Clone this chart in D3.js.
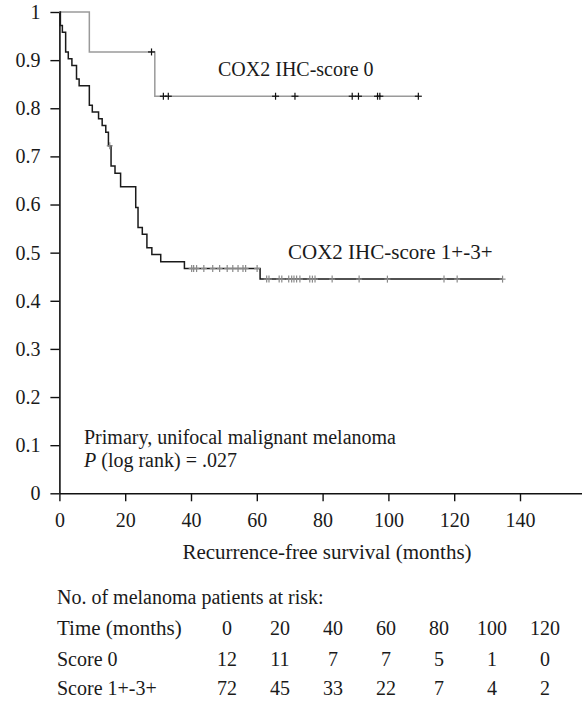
<!DOCTYPE html>
<html>
<head>
<meta charset="utf-8">
<script src="https://cdn.jsdelivr.net/npm/d3@7"></script>
<style>
  html, body { margin: 0; padding: 0; background: #fff; }
  svg { display: block; }
  text { font-family: "Liberation Serif", "DejaVu Serif", serif; fill: #1a1a1a; }
</style>
</head>
<body>
<script>
// ---------------- data ----------------
// COX2 IHC-score 0 : step times and survival after each step
const score0Times = [0, 9.1, 29.0];
const score0Surv  = [1, 0.917, 0.825];
const score0End   = 109.1;
const score0Censor = [28.0, 31.6, 33.1, 65.7, 71.6, 89.0, 90.9, 96.7, 97.4, 109.1];

// COX2 IHC-score 1+-3+
const score13Times = [0, 0.3, 0.9, 1.9, 2.7, 3.8, 5.2, 6.0, 9.1, 10.0, 11.9, 13.0, 14.1, 14.9,
                      15.7, 16.9, 18.6, 23.2, 23.9, 25.2, 26.6, 28.1, 30.8, 38.0, 61.0];
const score13Surv  = [1, 0.972, 0.958, 0.917, 0.903, 0.889, 0.861, 0.847, 0.806, 0.792, 0.778, 0.764, 0.750, 0.722,
                      0.680, 0.665, 0.637, 0.594, 0.552, 0.538, 0.510, 0.496, 0.481, 0.467, 0.445];
const score13End   = 134.7;
const score13Censor = [15.3, 40.2, 40.8, 41.7, 43.9, 46.6, 48.7, 51.0, 52.7, 54.3, 55.8, 56.6, 60.1,
                       63.0, 63.7, 66.8, 67.6, 69.7, 70.6, 71.3, 72.1, 73.1, 76.1, 76.9, 77.7,
                       82.9, 91.1, 99.7, 116.9, 120.9, 134.7];

const xTicks = [0, 20, 40, 60, 80, 100, 120, 140];
const yTicks = [0, 0.1, 0.2, 0.3, 0.4, 0.5, 0.6, 0.7, 0.8, 0.9, 1];

const riskTimes = [0, 20, 40, 60, 80, 100, 120];
const riskScore0 = [12, 11, 7, 7, 5, 1, 0];
const riskScore13 = [72, 45, 33, 22, 7, 4, 2];

// ---------------- layout ----------------
const W = 582, H = 712;
const FS = 20, TFS = 20;
const svg = d3.select("body").append("svg").attr("width", W).attr("height", H);

const x = d3.scaleLinear().domain([0, 160]).range([59.4, 585.8]);
const y = d3.scaleLinear().domain([0, 1]).range([493.3, 12]);

// axes
const yAxis = d3.axisLeft(y).tickValues(yTicks).tickSize(9).tickSizeOuter(0)
  .tickFormat(d => d === 0 ? "0" : d === 1 ? "1" : d3.format(".1f")(d));
const gy = svg.append("g").attr("transform", `translate(${x(0)},0)`).call(yAxis);
gy.select(".domain").attr("stroke", "#111").attr("stroke-width", 1.6);
gy.selectAll(".tick line").attr("stroke", "#111").attr("stroke-width", 1.4);
gy.selectAll(".tick text").attr("font-size", TFS).attr("x", -19).attr("fill", "#1a1a1a")
  .style("font-family", '"Liberation Serif", serif');

const xAxis = d3.axisBottom(x).tickValues(xTicks).tickSize(8).tickSizeOuter(0);
const gx = svg.append("g").attr("transform", `translate(0,${y(0)})`).call(xAxis);
gx.select(".domain").attr("stroke", "#111").attr("stroke-width", 1.6);
gx.selectAll(".tick line").attr("stroke", "#111").attr("stroke-width", 1.4);
gx.selectAll(".tick text").attr("font-size", TFS).attr("y", 20).attr("fill", "#1a1a1a")
  .style("font-family", '"Liberation Serif", serif');

svg.append("text").attr("x", 327).attr("y", 559).attr("text-anchor", "middle")
  .attr("font-size", 21).text("Recurrence-free survival (months)");

// step curves
function stepPoints(times, surv, end) {
  const pts = times.map((t, i) => [t, surv[i]]);
  pts.push([end, surv[surv.length - 1]]);
  return pts;
}
function survAt(times, surv, t) {
  let s = surv[0];
  for (let i = 0; i < times.length; i++) if (times[i] <= t) s = surv[i];
  return s;
}
const line = d3.line().x(d => x(d[0])).y(d => y(d[1])).curve(d3.curveStepAfter);

svg.append("path").datum(stepPoints(score0Times, score0Surv, score0End))
  .attr("d", line).attr("fill", "none").attr("stroke", "#9a9a9a").attr("stroke-width", 1.5);
svg.append("path").datum(stepPoints(score13Times, score13Surv, score13End))
  .attr("d", line).attr("fill", "none").attr("stroke", "#1a1a1a").attr("stroke-width", 1.5);

// censor marks
function censors(times, sTimes, sSurv, color, hw, hh) {
  const g = svg.append("g").attr("stroke", color).attr("stroke-width", 1.2);
  times.forEach(t => {
    const cx = x(t), cy = y(survAt(sTimes, sSurv, t));
    g.append("line").attr("x1", cx - hw).attr("x2", cx + hw).attr("y1", cy).attr("y2", cy);
    g.append("line").attr("x1", cx).attr("x2", cx).attr("y1", cy - hh).attr("y2", cy + hh);
  });
}
censors(score0Censor, score0Times, score0Surv, "#111", 3.5, 3.5);
censors(score13Censor, score13Times, score13Surv, "#8a8a8a", 3, 3.5);

// labels
svg.append("text").attr("x", 218).attr("y", 76).attr("font-size", FS).text("COX2 IHC-score 0");
svg.append("text").attr("x", 288).attr("y", 259).attr("font-size", 21).text("COX2 IHC-score 1+-3+");
svg.append("text").attr("x", 84).attr("y", 444).attr("font-size", FS).text("Primary, unifocal malignant melanoma");
const pt = svg.append("text").attr("x", 84).attr("y", 467).attr("font-size", FS);
pt.append("tspan").attr("font-style", "italic").text("P");
pt.append("tspan").text(" (log rank) = .027");

// risk table
const cx = d3.scalePoint().domain(riskTimes).range([227, 545]);
svg.append("text").attr("x", 57).attr("y", 604).attr("font-size", FS).text("No. of melanoma patients at risk:");
const rows = [
  { label: "Time (months)", vals: riskTimes, yy: 635 },
  { label: "Score 0", vals: riskScore0, yy: 666 },
  { label: "Score 1+-3+", vals: riskScore13, yy: 695 }
];
rows.forEach(r => {
  svg.append("text").attr("x", 57).attr("y", r.yy).attr("font-size", r.label === "Time (months)" ? 21 : FS).text(r.label);
  r.vals.forEach((v, i) => {
    svg.append("text").attr("x", cx(riskTimes[i])).attr("y", r.yy).attr("text-anchor", "middle")
      .attr("font-size", FS).text(v);
  });
});
</script>
</body>
</html>
